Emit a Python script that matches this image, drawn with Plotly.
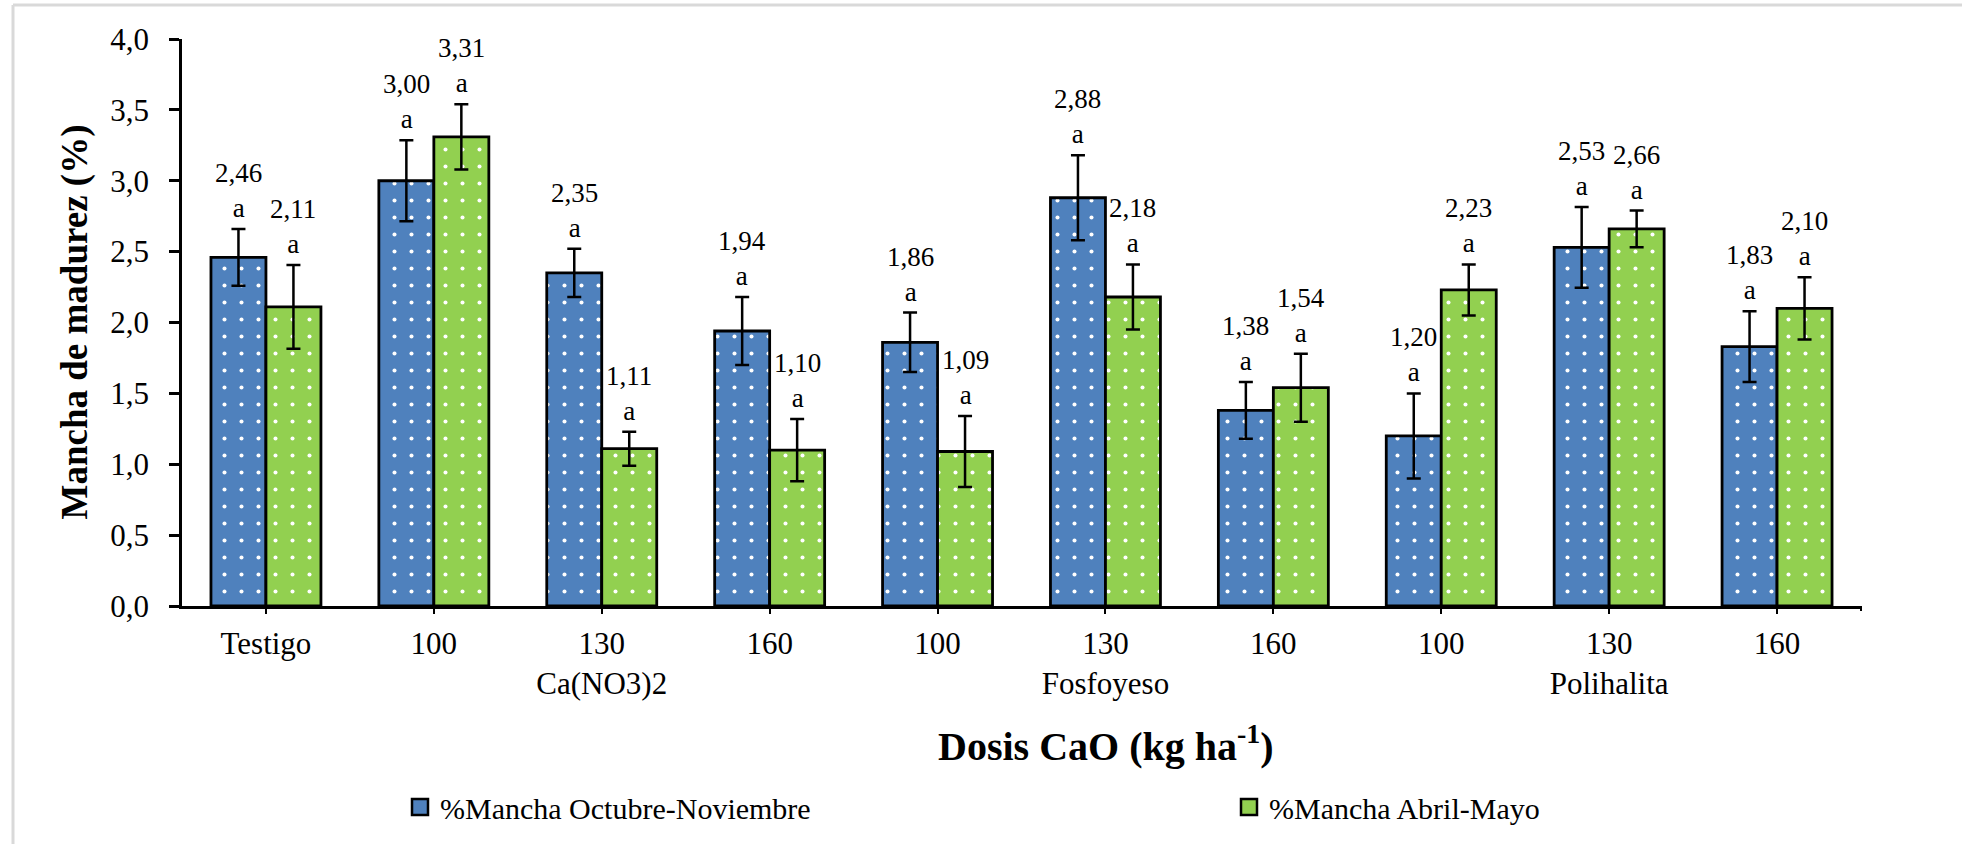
import plotly.graph_objects as go

# ---------------- data ----------------
tick_labels = ["Testigo", "100", "130<br>Ca(NO3)2", "160", "100",
               "130<br>Fosfoyeso", "160", "100", "130<br>Polihalita", "160"]
series_names = ["%Mancha Octubre-Noviembre", "%Mancha Abril-Mayo"]
oct_nov = [2.46, 3.00, 2.35, 1.94, 1.86, 2.88, 1.38, 1.20, 2.53, 1.83]
abr_may = [2.11, 3.31, 1.11, 1.10, 1.09, 2.18, 1.54, 2.23, 2.66, 2.10]
oct_nov_err = [0.20, 0.285, 0.17, 0.24, 0.21, 0.30, 0.20, 0.30, 0.285, 0.25]
abr_may_err = [0.295, 0.23, 0.12, 0.22, 0.25, 0.23, 0.24, 0.18, 0.13, 0.22]
letters_oct = ["a"] * 10
letters_abr = ["a"] * 10

# ---------------- style ----------------
FONT = "Liberation Serif"
BLUE = "#4F81BD"
GREEN = "#92D050"
BARGAP = 0.345

W, H = 1962, 844
ML, MR, MT, MB = 182, 101, 39, 237
PW = W - ML - MR
PH = H - MT - MB


def px_x(p):
    return (p - ML) / PW


def px_y(p):
    return (H - MB - p) / PH


x = list(range(len(tick_labels)))

fig = go.Figure()
for vals, errs, col, name in [(oct_nov, oct_nov_err, BLUE, series_names[0]),
                              (abr_may, abr_may_err, GREEN, series_names[1])]:
    fig.add_trace(go.Bar(
        x=x, y=vals, name=name, showlegend=False,
        marker=dict(color=col, line=dict(color="black", width=2.8),
                    pattern=dict(shape=".", fgcolor="white", size=17,
                                 solidity=0.045, fillmode="replace", bgcolor=col)),
        error_y=dict(type="data", array=errs, visible=True, color="black",
                     thickness=2.5, width=7),
    ))

# legend proxies (larger squares)
for col, name, lw in [(BLUE, series_names[0], 784), (GREEN, series_names[1], None)]:
    fig.add_trace(go.Scatter(
        x=[None], y=[None], mode="markers", name=name, legendwidth=lw,
        marker=dict(symbol="square", size=16, color=col,
                    line=dict(color="black", width=2.5)),
    ))

# data labels above error bars
half = (1 - BARGAP) / 4.0
for vals, errs, lets, off in [(oct_nov, oct_nov_err, letters_oct, -half),
                              (abr_may, abr_may_err, letters_abr, half)]:
    for i, (v, e, l) in enumerate(zip(vals, errs, lets)):
        fig.add_annotation(
            x=i + off, y=v + e, xref="x", yref="y",
            text=f"{v:.2f}".replace(".", ",") + "<br>" + l,
            showarrow=False, yanchor="bottom", xanchor="center", yshift=4,
            font=dict(family=FONT, size=27, color="black"),
        )

# axis titles
fig.add_annotation(
    x=px_x(74), y=0.5, xref="paper", yref="paper", textangle=-90,
    text="<b>Mancha de madurez (%)</b>", showarrow=False,
    xanchor="center", yanchor="middle",
    font=dict(family=FONT, size=37, color="black"),
)
fig.add_annotation(
    x=px_x(1106), y=px_y(745), xref="paper", yref="paper",
    text="<b>Dosis CaO (kg ha<sup>-1</sup>)</b>", showarrow=False,
    xanchor="center", yanchor="middle",
    font=dict(family=FONT, size=40, color="black"),
)

# chart-area frame (light grey) and axis end tick
fig.add_shape(type="line", xref="paper", yref="paper",
              x0=px_x(13), x1=px_x(13), y0=px_y(H + 5), y1=px_y(5),
              line=dict(color="#d9d9d9", width=3))
fig.add_shape(type="line", xref="paper", yref="paper",
              x0=px_x(13), x1=px_x(W + 5), y0=px_y(5), y1=px_y(5),
              line=dict(color="#d9d9d9", width=3))
fig.add_shape(type="line", xref="paper", yref="paper",
              x0=1, x1=1, y0=0, y1=px_y(H - MB + 5),
              line=dict(color="black", width=2))

fig.update_layout(
    width=W, height=H,
    margin=dict(l=ML, r=MR, t=MT, b=MB),
    paper_bgcolor="white", plot_bgcolor="white",
    barmode="group", bargap=BARGAP, bargroupgap=0,
    separators=",.",
    font=dict(family=FONT, color="black"),
    showlegend=True,
    legend=dict(orientation="h", x=px_x(400), y=px_y(807), xanchor="left",
                yanchor="middle",
                font=dict(family=FONT, size=30, color="black"),
                bgcolor="rgba(0,0,0,0)"),
    xaxis=dict(range=[-0.5, len(x) - 0.5], tickmode="array", tickvals=x,
               ticktext=tick_labels, ticks="outside", ticklen=5, tickwidth=2,
               tickcolor="black", showline=True, linecolor="black", linewidth=2.5,
               showgrid=False, zeroline=False, ticklabelstandoff=3,
               tickfont=dict(family=FONT, size=31, color="black")),
    yaxis=dict(range=[0, 4], dtick=0.5, tick0=0, tickformat=".1f",
               ticks="outside", ticklen=10, tickwidth=2.5, tickcolor="black",
               showline=True, linecolor="black", linewidth=2.5,
               showgrid=False, zeroline=False, ticklabelstandoff=14,
               tickfont=dict(family=FONT, size=31, color="black")),
)

fig.write_html("out.html")
